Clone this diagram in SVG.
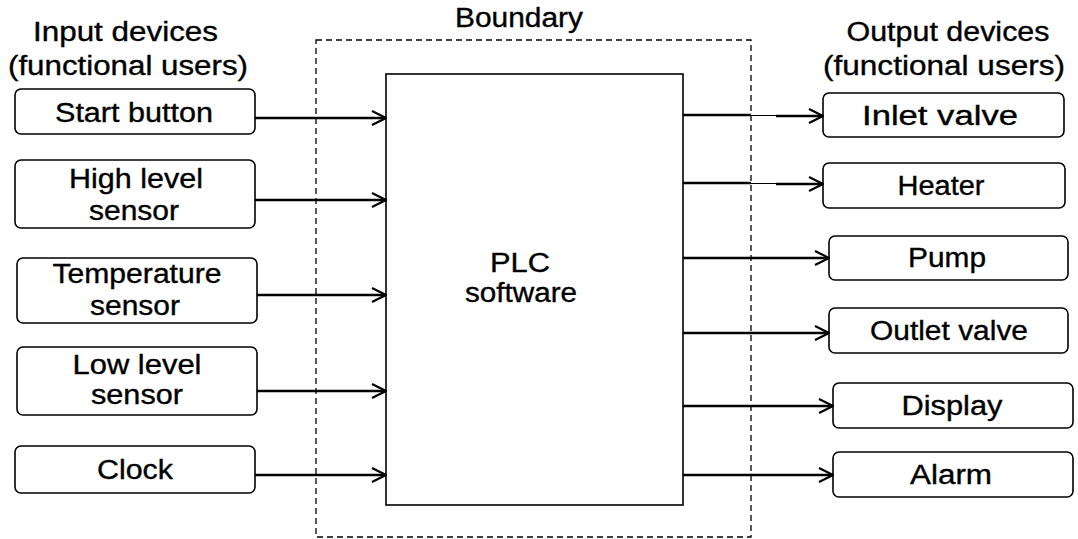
<svg xmlns="http://www.w3.org/2000/svg" width="1078" height="539" viewBox="0 0 1078 539">
  <style>
    .bg { fill: #ffffff; }
    .dev { fill: #ffffff; stroke: #000000; stroke-width: 1.6; }
    .plc { fill: #ffffff; stroke: #000000; stroke-width: 1.6; }
    .boundary { fill: none; stroke: #000000; stroke-width: 1.3; stroke-dasharray: 6 4; }
    .lbl { font-family: "Liberation Sans", Arial, sans-serif; font-size: 27px; fill: #000000; stroke: #000000; stroke-width: 0.35; text-anchor: middle; }
    .wire { stroke: #000000; stroke-width: 2.4; fill: none; }
    .thin { stroke: #000000; stroke-width: 1; fill: none; }
  </style>
  <defs>
    <marker id="chevron" viewBox="0 0 16 18" refX="15" refY="9" markerWidth="16" markerHeight="18" markerUnits="userSpaceOnUse" orient="auto">
      <path d="M1,2 L15,9 L1,16" fill="none" stroke="#000000" stroke-width="2.2"/>
    </marker>
  </defs>
  <rect class="bg" x="0" y="0" width="1078" height="539"/>

  <!-- column headings -->
  <g id="headings">
    <text class="lbl" x="125.5" y="41" textLength="185" lengthAdjust="spacingAndGlyphs">Input  devices</text>
    <text class="lbl" x="128" y="75" textLength="240" lengthAdjust="spacingAndGlyphs">(functional  users)</text>
    <text class="lbl" x="948" y="41" textLength="203" lengthAdjust="spacingAndGlyphs">Output  devices</text>
    <text class="lbl" x="944" y="75" textLength="242" lengthAdjust="spacingAndGlyphs">(functional  users)</text>
  </g>

  <!-- system boundary -->
  <g id="boundary">
    <rect class="boundary" x="316" y="40" width="435" height="497"/>
    <text class="lbl" x="519" y="27" textLength="128" lengthAdjust="spacingAndGlyphs">Boundary</text>
  </g>

  <!-- central controller -->
  <g id="plc">
    <rect class="plc" x="386" y="74" width="297" height="431"/>
    <text class="lbl" x="520" y="272" textLength="60" lengthAdjust="spacingAndGlyphs">PLC</text>
    <text class="lbl" x="521" y="302" textLength="112" lengthAdjust="spacingAndGlyphs">software</text>
  </g>

  <!-- inputs -->
  <g id="start-button">
    <rect class="dev" x="15" y="89" width="240" height="45" rx="6"/>
    <text class="lbl" x="134" y="122" textLength="158" lengthAdjust="spacingAndGlyphs">Start button</text>
  </g>
  <g id="high-level-sensor">
    <rect class="dev" x="15" y="160" width="240" height="68" rx="6"/>
    <text class="lbl" x="136" y="188" textLength="134" lengthAdjust="spacingAndGlyphs">High level</text>
    <text class="lbl" x="134" y="220" textLength="90" lengthAdjust="spacingAndGlyphs">sensor</text>
  </g>
  <g id="temperature-sensor">
    <rect class="dev" x="17" y="258" width="240" height="65" rx="6"/>
    <text class="lbl" x="137" y="283" textLength="169" lengthAdjust="spacingAndGlyphs">Temperature</text>
    <text class="lbl" x="135" y="315" textLength="90" lengthAdjust="spacingAndGlyphs">sensor</text>
  </g>
  <g id="low-level-sensor">
    <rect class="dev" x="17" y="347" width="240" height="68" rx="6"/>
    <text class="lbl" x="137" y="374" textLength="129" lengthAdjust="spacingAndGlyphs">Low level</text>
    <text class="lbl" x="137" y="404" textLength="92" lengthAdjust="spacingAndGlyphs">sensor</text>
  </g>
  <g id="clock">
    <rect class="dev" x="15" y="446" width="240" height="47" rx="6"/>
    <text class="lbl" x="135" y="479" textLength="76" lengthAdjust="spacingAndGlyphs">Clock</text>
  </g>

  <!-- outputs -->
  <g id="inlet-valve">
    <rect class="dev" x="823" y="93" width="241" height="44" rx="6"/>
    <text class="lbl" x="940" y="125" textLength="156" lengthAdjust="spacingAndGlyphs">Inlet  valve</text>
  </g>
  <g id="heater">
    <rect class="dev" x="823" y="163" width="242" height="45" rx="6"/>
    <text class="lbl" x="941" y="195" textLength="87" lengthAdjust="spacingAndGlyphs">Heater</text>
  </g>
  <g id="pump">
    <rect class="dev" x="829" y="236" width="239" height="44" rx="6"/>
    <text class="lbl" x="947" y="267" textLength="78" lengthAdjust="spacingAndGlyphs">Pump</text>
  </g>
  <g id="outlet-valve">
    <rect class="dev" x="829" y="308" width="239" height="45" rx="6"/>
    <text class="lbl" x="949" y="340" textLength="158" lengthAdjust="spacingAndGlyphs">Outlet  valve</text>
  </g>
  <g id="display">
    <rect class="dev" x="833" y="383" width="240" height="45" rx="6"/>
    <text class="lbl" x="952" y="415" textLength="101" lengthAdjust="spacingAndGlyphs">Display</text>
  </g>
  <g id="alarm">
    <rect class="dev" x="833" y="452" width="240" height="45" rx="6"/>
    <text class="lbl" x="951" y="484" textLength="82" lengthAdjust="spacingAndGlyphs">Alarm</text>
  </g>

  <!-- signal flows -->
  <g id="connectors">
    <line class="wire" x1="255" y1="118" x2="386" y2="118" marker-end="url(#chevron)"/>
    <line class="wire" x1="255" y1="200" x2="386" y2="200" marker-end="url(#chevron)"/>
    <line class="wire" x1="257" y1="295" x2="386" y2="295" marker-end="url(#chevron)"/>
    <line class="wire" x1="257" y1="391" x2="386" y2="391" marker-end="url(#chevron)"/>
    <line class="wire" x1="255" y1="475" x2="386" y2="475" marker-end="url(#chevron)"/>

    <line class="wire" x1="683" y1="115" x2="751" y2="115"/>
    <line class="thin" x1="751" y1="115.5" x2="777" y2="115.5"/>
    <line class="wire" x1="776" y1="116" x2="823" y2="116" marker-end="url(#chevron)"/>
    <line class="wire" x1="683" y1="183" x2="751" y2="183"/>
    <line class="thin" x1="751" y1="183.5" x2="777" y2="183.5"/>
    <line class="wire" x1="776" y1="184" x2="823" y2="184" marker-end="url(#chevron)"/>
    <line class="wire" x1="683" y1="258" x2="829" y2="258" marker-end="url(#chevron)"/>
    <line class="wire" x1="683" y1="333" x2="829" y2="333" marker-end="url(#chevron)"/>
    <line class="wire" x1="683" y1="406" x2="833" y2="406" marker-end="url(#chevron)"/>
    <line class="wire" x1="683" y1="475" x2="833" y2="475" marker-end="url(#chevron)"/>
  </g>
</svg>
